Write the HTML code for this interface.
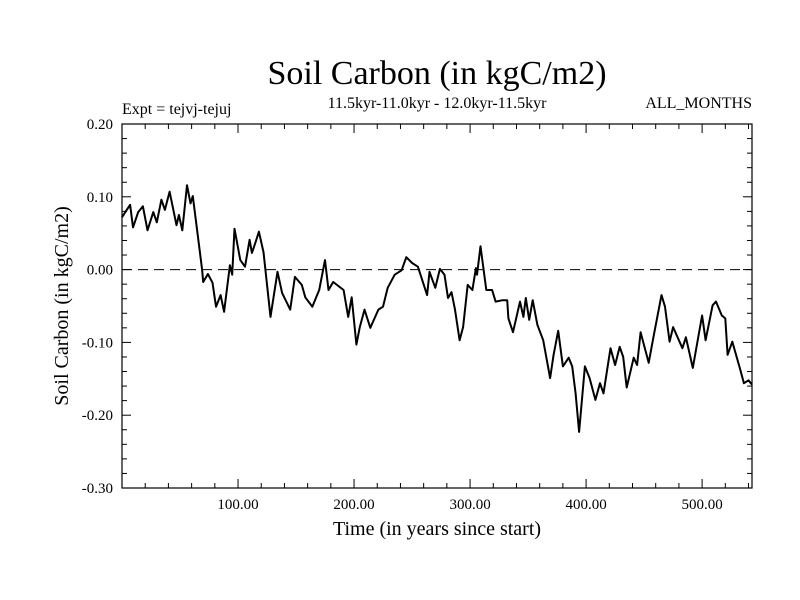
<!DOCTYPE html>
<html><head><meta charset="utf-8"><style>
body{margin:0;background:#fff}
svg{display:block;font-family:"Liberation Serif",serif}
</style></head><body>
<svg id="chart" width="800" height="600" viewBox="0 0 800 600">
<rect width="800" height="600" fill="#fff"/>
<text x="437" y="84" font-size="34" text-anchor="middle">Soil Carbon (in kgC/m2)</text>
<text x="437" y="108" font-size="16" text-anchor="middle">11.5kyr-11.0kyr - 12.0kyr-11.5kyr</text>
<text x="122" y="114" font-size="16">Expt = tejvj-tejuj</text>
<text x="752" y="108" font-size="16" text-anchor="end">ALL_MONTHS</text>
<text x="437" y="535" font-size="20" text-anchor="middle">Time (in years since start)</text>
<text transform="translate(68,306) rotate(-90)" font-size="20" text-anchor="middle">Soil Carbon (in kgC/m2)</text>
<g id="axes"></g>
<line id="zero" stroke="#000" stroke-width="1" stroke-dasharray="10,6"/>
<path id="series" fill="none" stroke="#000" stroke-width="2" stroke-linejoin="round"/>
<rect x="122" y="124" width="630" height="364" fill="none" stroke="#000" stroke-width="1.2"/>
</svg>
<script>
const years=[0,7,9.5,14,18,22,27,30,34,37,41,47,49,52,56,59,61,69,70,74,78,81,85,88,93,95,97,102,106,110,112,115,118,122,128,134,138,145,149,155,158,164,170,175,178,182,191,195,198,202,205,209,214,221,225,229,235,241,245,250,255,263,265,270,274,278,281,284,287,291,294,298,302,305,306,309,314,319,322,328,332,333,337,343,346,348,351,354,358,363,369,372,376,380,385,388,391,394,399,403,408,412,415,421,425,429,432,435,441,444,447,454,458,465,468,472,475,483,486,492,500,503,509,512,517,520,522,526,533,536,540,543];
const values=[0.072,0.089,0.058,0.079,0.087,0.054,0.079,0.065,0.096,0.082,0.107,0.061,0.075,0.054,0.116,0.091,0.101,0,-0.017,-0.006,-0.018,-0.051,-0.035,-0.058,0.006,-0.007,0.056,0.013,0.004,0.041,0.023,0.037,0.052,0.024,-0.065,-0.003,-0.032,-0.055,-0.010,-0.021,-0.038,-0.051,-0.028,0.013,-0.028,-0.017,-0.028,-0.065,-0.038,-0.103,-0.079,-0.055,-0.080,-0.055,-0.051,-0.025,-0.007,-0.001,0.017,0.009,0.004,-0.035,-0.003,-0.025,0.001,-0.007,-0.039,-0.031,-0.055,-0.097,-0.079,-0.021,-0.028,0.002,-0.007,0.032,-0.028,-0.028,-0.044,-0.042,-0.042,-0.067,-0.086,-0.044,-0.065,-0.039,-0.069,-0.042,-0.076,-0.097,-0.149,-0.117,-0.084,-0.133,-0.121,-0.133,-0.170,-0.223,-0.133,-0.149,-0.179,-0.156,-0.170,-0.108,-0.131,-0.106,-0.120,-0.162,-0.121,-0.131,-0.086,-0.128,-0.093,-0.035,-0.051,-0.099,-0.079,-0.108,-0.093,-0.135,-0.063,-0.097,-0.049,-0.044,-0.063,-0.067,-0.117,-0.099,-0.138,-0.156,-0.152,-0.158];
const xTicks=[100,200,300,400,500];
const xTickLabels=["100.00","200.00","300.00","400.00","500.00"];
const yTicks=[0.2,0.1,0,-0.1,-0.2,-0.3];
const yTickLabels=["0.20","0.10","0.00","-0.10","-0.20","-0.30"];
const X0=122,X1=752,Y0=124,Y1=488,XMIN=0,XMAX=543,YMIN=-0.3,YMAX=0.2;
const sx=v=>X0+(v-XMIN)/(XMAX-XMIN)*(X1-X0);
const sy=v=>Y1-(v-YMIN)/(YMAX-YMIN)*(Y1-Y0);
const NS="http://www.w3.org/2000/svg";
const ax=document.getElementById('axes');
function ln(x1,y1,x2,y2,name){const l=document.createElementNS(NS,'line');
l.setAttribute('x1',x1);l.setAttribute('y1',y1);l.setAttribute('x2',x2);l.setAttribute('y2',y2);
l.setAttribute('stroke','#000');l.setAttribute('stroke-width','1');


ax.appendChild(l);}
function tx(x,y,s,anchor,name){const t=document.createElementNS(NS,'text');
t.setAttribute('x',x);t.setAttribute('y',y);t.setAttribute('font-size','15');t.setAttribute('text-anchor',anchor);t.textContent=s;


ax.appendChild(t);}
for(let v=20;v<XMAX;v+=20){const major=v%100===0;const L=major?9:5;const x=sx(v);
ln(x,Y1,x,Y1-L,'x-tick');ln(x,Y0,x,Y0+L,'x-tick-top');}
for(let i=-15;i<=10;i++){const v=i*0.02;const major=i%5===0;const L=major?9:5;const y=sy(v);
ln(X0,y,X0+L,y,'y-tick');ln(X1,y,X1-L,y,'y-tick-right');}
xTicks.forEach((v,i)=>tx(sx(v),509,xTickLabels[i],'middle','x-tick-label'));
yTicks.forEach((v,i)=>tx(113,sy(v)+5,yTickLabels[i],'end','y-tick-label'));
const z=document.getElementById('zero');
z.setAttribute('x1',X0);z.setAttribute('x2',X1);z.setAttribute('y1',sy(0));z.setAttribute('y2',sy(0));
let d='';years.forEach((yr,i)=>{d+=(i?'L':'M')+sx(yr).toFixed(1)+','+sy(values[i]).toFixed(1);});
document.getElementById('series').setAttribute('d',d);
</script>
</body></html>
